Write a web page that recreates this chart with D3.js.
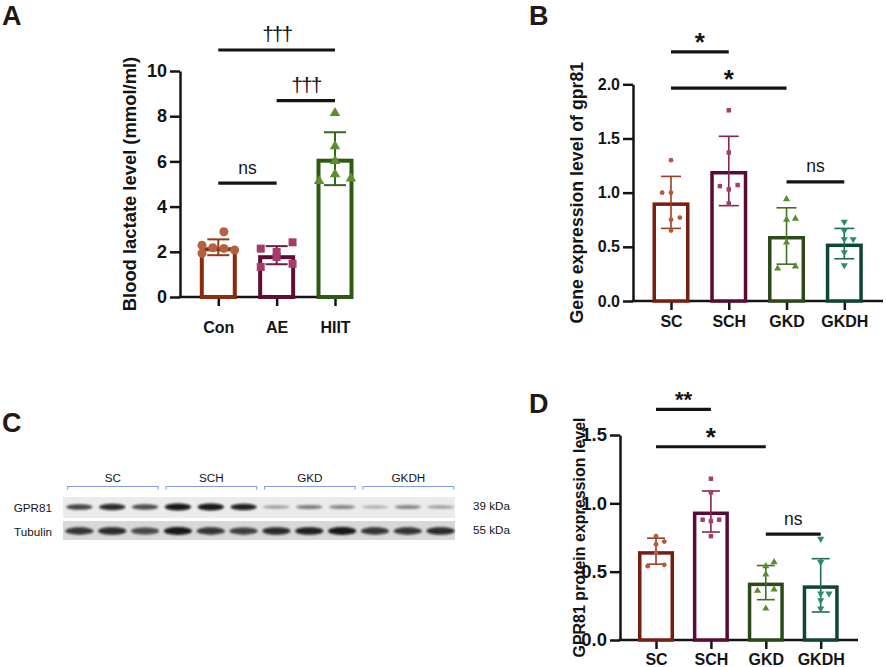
<!DOCTYPE html>
<html>
<head>
<meta charset="utf-8">
<script src="https://cdn.jsdelivr.net/npm/d3@7"></script>
<style>
  body { margin: 0; background: #fff; }
  svg { display: block; font-family: "Liberation Sans", Arial, Helvetica, sans-serif; }
</style>
</head>
<body>
<svg id="fig" width="886" height="667"></svg>
<script>
// ---------------- Data ----------------

// Panel A - blood lactate
var groupsA = ["Con", "AE", "HIIT"];
var meanA   = [2.2, 1.85, 6.12];
var sdA     = [0.35, 0.4, 1.17];
var pointsA = [
  [2.89, 2.29, 1.93, 2.18, 2.15, 2.08],
  [2.42, 2.14, 1.99, 1.33, 1.47, 1.77],
  [8.14, 6.67, 6.02, 5.43, 5.13, 5.24]
];
var ticksA = [0, 2, 4, 6, 8, 10];
var sigA = [
  { from: "Con", to: "HIIT", label: "†††" },
  { from: "AE",  to: "HIIT", label: "†††" },
  { from: "Con", to: "AE",   label: "ns" }
];

// Panel B - gpr81 gene expression
var groupsB = ["SC", "SCH", "GKD", "GKDH"];
var meanB   = [0.91, 1.2, 0.6, 0.53];
var sdB     = [0.24, 0.32, 0.26, 0.14];
var pointsB = [
  [1.30, 1.00, 1.00, 0.75, 0.77, 0.65],
  [1.76, 1.37, 1.06, 1.07, 1.03, 0.90],
  [0.94, 0.75, 0.76, 0.54, 0.30, 0.32],
  [0.73, 0.65, 0.57, 0.57, 0.45, 0.33]
];
var ticksB = [0, 0.5, 1, 1.5, 2];
var sigB = [
  { from: "SC",  to: "SCH",  label: "*" },
  { from: "SC",  to: "GKD",  label: "*" },
  { from: "GKD", to: "GKDH", label: "ns" }
];

// Panel C - western blot
var laneGroups  = ["SC", "SCH", "GKD", "GKDH"];
var gpr81Band   = [0.75, 0.85, 0.7, 0.95, 0.95, 0.9, 0.35, 0.5, 0.45, 0.3, 0.45, 0.35];
var tubulinBand = [0.8, 0.85, 0.7, 0.95, 0.8, 0.75, 0.85, 0.9, 0.95, 0.8, 0.8, 0.85];
var blotRows    = ["GPR81", "Tubulin"];
var blotKda     = ["39 kDa", "55 kDa"];

// Panel D - GPR81 protein
var groupsD = ["SC", "SCH", "GKD", "GKDH"];
var meanD   = [0.65, 0.94, 0.42, 0.40];
var sdD     = [0.095, 0.15, 0.125, 0.195];
var pointsD = [
  [0.76, 0.72, 0.70, 0.64, 0.54, 0.55],
  [1.18, 1.08, 0.88, 0.88, 0.87, 0.76],
  [0.57, 0.54, 0.48, 0.36, 0.37, 0.23],
  [0.74, 0.57, 0.34, 0.34, 0.29, 0.23]
];
var ticksD = [0, 0.5, 1, 1.5];
var sigD = [
  { from: "SC",  to: "SCH",  label: "**" },
  { from: "SC",  to: "GKD",  label: "*" },
  { from: "GKD", to: "GKDH", label: "ns" }
];

// ---------------- Layout ----------------

var ink = "#141414";
var letterInk = "#231815";

// horizontal spread of the dots, as a fraction of the bar width
var slotsA = [[0.15, -0.44, -0.44, -0.15, 0.15, 0.44], [0.43, -0.43, 0, -0.43, 0.43, 0], [0, 0, 0, 0, -0.43, 0.43]];
var slotsB = [[0, -0.24, 0, 0, 0.24, 0], [0, 0, -0.24, 0.24, 0, 0], [0, 0, 0.24, 0, -0.24, 0.24], [0, 0, 0.24, 0, 0, 0]];
var slotsD = [[0, 0.23, 0, 0, -0.23, 0.23], [0, 0, -0.23, 0.23, 0, 0], [0.23, 0, 0, -0.23, 0.23, 0], [0, 0, 0.23, 0, 0, 0]];

var colA = { bar: ["#8a2c0e", "#5e0d38", "#2d5a12"], dot: ["#b5603f", "#a43c6c", "#5d8f2c"] };
var col4 = { bar: ["#7a1c0e", "#5a0a35", "#2b4a17", "#0e4535"], dot: ["#b35a3d", "#a53d6a", "#5b8b2b", "#2a8c6c"] };
var symA = [d3.symbolCircle, d3.symbolSquare, d3.symbolTriangle];
var sym4 = [d3.symbolCircle, d3.symbolSquare, d3.symbolTriangle, "down"];

var sigStyle = {
  "†††": { size: 21, weight: "normal", dy: -8.5, spacing: -2 },
  "ns":  { size: 17.5, weight: "normal", dy: -9.5, spacing: 0 },
  "*":   { size: 26, weight: "bold", dy: -0.5, spacing: 0 },
  "**":  { size: 22, weight: "bold", dy: -2.5, spacing: 0 }
};

var svg = d3.select("#fig");

// Draw one bar panel
function drawBars(cfg) {
  var g = svg.append("g");
  var x = d3.scalePoint().domain(cfg.groups).range(cfg.xRange);
  var y = d3.scaleLinear().domain(cfg.yDomain).range(cfg.yRange);

  // Y axis
  var ya = g.append("g")
    .attr("transform", "translate(" + cfg.axisX + ",0)")
    .call(d3.axisLeft(y).tickValues(cfg.ticks).tickFormat(cfg.fmt).tickSize(10).tickSizeOuter(0).tickPadding(3))
    .attr("font-family", null).attr("font-size", null);
  ya.select(".domain").attr("stroke", ink).attr("stroke-width", 2.5);
  ya.selectAll(".tick line").attr("stroke", ink).attr("stroke-width", 2.5);
  ya.selectAll(".tick text").attr("fill", ink)
    .style("font-size", cfg.tickFont + "px").style("font-weight", "bold");

  // X axis
  g.append("line")
    .attr("x1", cfg.axisX - 1.25).attr("x2", cfg.axisEnd)
    .attr("y1", y(0)).attr("y2", y(0))
    .attr("stroke", ink).attr("stroke-width", 2.5);
  var xa = g.append("g")
    .attr("transform", "translate(0," + y(0) + ")")
    .call(d3.axisBottom(x).tickSize(9).tickPadding(cfg.xPad))
    .attr("font-family", null).attr("font-size", null);
  xa.select(".domain").remove();
  xa.selectAll(".tick line").attr("stroke", ink).attr("stroke-width", 2.5);
  xa.selectAll(".tick text").attr("fill", ink)
    .style("font-size", cfg.xFont + "px").style("font-weight", "bold");

  // Bars
  g.selectAll("rect.bar").data(cfg.groups).enter().append("rect")
    .attr("class", "bar")
    .attr("x", function(d) { return x(d) - cfg.barW / 2 + cfg.barStroke / 2; })
    .attr("width", cfg.barW - cfg.barStroke)
    .attr("y", function(d, i) { return y(cfg.mean[i]) + cfg.barStroke / 2; })
    .attr("height", function(d, i) { return y(0) - y(cfg.mean[i]) - cfg.barStroke / 2; })
    .attr("fill", "#fff")
    .attr("stroke", function(d, i) { return cfg.colors.bar[i]; })
    .attr("stroke-width", cfg.barStroke);

  // Error bars
  var err = g.selectAll("g.err").data(cfg.groups).enter().append("g").attr("class", "err")
    .attr("stroke", function(d, i) { return d3.interpolateRgb(cfg.colors.bar[i], cfg.colors.dot[i])(cfg.errMix); })
    .attr("stroke-width", cfg.errW);
  err.append("line")
    .attr("x1", function(d) { return x(d); }).attr("x2", function(d) { return x(d); })
    .attr("y1", function(d, i) { return y(cfg.mean[i] - cfg.sd[i]); })
    .attr("y2", function(d, i) { return y(cfg.mean[i] + cfg.sd[i]); });
  [-1, 1].forEach(function(s) {
    err.append("line")
      .attr("x1", function(d) { return x(d) - cfg.capW / 2; })
      .attr("x2", function(d) { return x(d) + cfg.capW / 2; })
      .attr("y1", function(d, i) { return y(cfg.mean[i] + s * cfg.sd[i]); })
      .attr("y2", function(d, i) { return y(cfg.mean[i] + s * cfg.sd[i]); });
  });

  // Dots
  cfg.groups.forEach(function(grp, i) {
    var type = cfg.symbols[i];
    var shape = d3.symbol().type(type === "down" ? d3.symbolTriangle : type).size(cfg.symSize[i]);
    g.selectAll("path.dot-" + i).data(cfg.points[i]).enter().append("path")
      .attr("class", "dot-" + i)
      .attr("d", shape)
      .attr("transform", function(v, j) {
        return "translate(" + (x(grp) + cfg.slots[i][j] * cfg.barW) + "," + y(v) + ")" + (type === "down" ? " rotate(180)" : "");
      })
      .attr("fill", cfg.colors.dot[i]);
  });

  // Significance brackets
  cfg.sig.forEach(function(s, k) {
    var ly = y(cfg.sigLevels[k]);
    var st = sigStyle[s.label];
    g.append("line")
      .attr("x1", x(s.from)).attr("x2", x(s.to))
      .attr("y1", ly).attr("y2", ly)
      .attr("stroke", ink).attr("stroke-width", 3.2);
    g.append("text")
      .attr("x", (x(s.from) + x(s.to)) / 2).attr("y", ly + st.dy)
      .attr("text-anchor", "middle")
      .style("font-size", st.size + "px").style("font-weight", st.weight)
      .style("letter-spacing", st.spacing + "px")
      .attr("fill", ink)
      .text(s.label);
  });

  // Y label
  var cy = (cfg.yRange[0] + cfg.yRange[1]) / 2;
  g.append("text")
    .attr("transform", "translate(" + cfg.labelX + "," + cy + ") rotate(-90)")
    .attr("text-anchor", "middle")
    .style("font-size", cfg.labelFont + "px").style("font-weight", "bold")
    .attr("fill", ink)
    .text(cfg.label);

  // Panel letter
  svg.append("text")
    .attr("x", cfg.letterPos[0]).attr("y", cfg.letterPos[1])
    .style("font-size", "27px").style("font-weight", "bold")
    .attr("fill", letterInk)
    .text(cfg.letter);
}

// Panel A
drawBars({
  groups: groupsA, mean: meanA, sd: sdA, points: pointsA, slots: slotsA, sig: sigA,
  ticks: ticksA, fmt: d3.format("d"), yDomain: [0, 10], yRange: [297, 71],
  xRange: [218.3, 335], axisX: 180, axisEnd: 348,
  tickFont: 18, xFont: 16, xPad: 16,
  barW: 37, barStroke: 4, capW: 22, errW: 2, errMix: 0.25,
  colors: colA, symbols: symA, symSize: [64, 64, 48],
  sigLevels: [10.93, 8.69, 5.04],
  label: "Blood lactate level (mmol/ml)", labelX: 136, labelFont: 18.4,
  letter: "A", letterPos: [2, 25]
});

// Panel B
drawBars({
  groups: groupsB, mean: meanB, sd: sdB, points: pointsB, slots: slotsB, sig: sigB,
  ticks: ticksB, fmt: d3.format(".1f"), yDomain: [0, 2], yRange: [301, 84.3],
  xRange: [671, 844.3], axisX: 633, axisEnd: 883,
  tickFont: 16, xFont: 16, xPad: 5.6,
  barW: 37, barStroke: 3.5, capW: 20, errW: 1.6, errMix: 0.55,
  colors: col4, symbols: sym4, symSize: [18, 20, 22, 22],
  sigLevels: [2.30, 1.964, 1.099],
  label: "Gene expression level of gpr81", labelX: 583, labelFont: 17.7,
  letter: "B", letterPos: [529, 25]
});

// Panel D
drawBars({
  groups: groupsD, mean: meanD, sd: sdD, points: pointsD, slots: slotsD, sig: sigD,
  ticks: ticksD, fmt: d3.format(".1f"), yDomain: [0, 1.5], yRange: [640, 435],
  xRange: [656, 820.7], axisX: 620, axisEnd: 858,
  tickFont: 18.5, xFont: 16, xPad: 4.6,
  barW: 36, barStroke: 3.5, capW: 18, errW: 1.6, errMix: 0.55,
  colors: col4, symbols: sym4, symSize: [18, 20, 22, 22],
  sigLevels: [1.688, 1.414, 0.775],
  label: "GPR81 protein expression level", labelX: 585, labelFont: 16,
  letter: "D", letterPos: [529, 413]
});

// Panel C - blot
(function() {
  var g = svg.append("g");
  var defs = svg.append("defs");
  defs.append("filter").attr("id", "blur").attr("x", "-30%").attr("y", "-100%").attr("width", "160%").attr("height", "300%")
    .append("feGaussianBlur").attr("stdDeviation", 1.1);

  var lane = d3.scalePoint().domain(d3.range(gpr81Band.length)).range([63, 457]).padding(0.5);
  var step = lane.step();
  var nPer = gpr81Band.length / laneGroups.length;
  var rowY = { GPR81: 507, Tubulin: 531 };

  // strip backgrounds
  g.append("rect").attr("x", 63).attr("y", 497).attr("width", 392).attr("height", 21).attr("fill", "#ebebeb");
  g.append("rect").attr("x", 63).attr("y", 521).attr("width", 392).attr("height", 19).attr("fill", "#d8d8d8");

  // bands
  g.selectAll("ellipse.gpr").data(gpr81Band).enter().append("ellipse")
    .attr("cx", function(d, i) { return lane(i); }).attr("cy", rowY.GPR81)
    .attr("rx", step * 0.4).attr("ry", function(d) { return 0.6 + 3 * d; })
    .attr("fill", "#0a0a0a").attr("opacity", function(d) { return d; })
    .attr("filter", "url(#blur)");
  g.selectAll("ellipse.tub").data(tubulinBand).enter().append("ellipse")
    .attr("cx", function(d, i) { return lane(i); }).attr("cy", rowY.Tubulin)
    .attr("rx", step * 0.43).attr("ry", function(d) { return 2.5 + 1.5 * d; })
    .attr("fill", "#0a0a0a").attr("opacity", function(d) { return d; })
    .attr("filter", "url(#blur)");

  // group labels and brackets
  laneGroups.forEach(function(name, k) {
    var x0 = lane(k * nPer) - step * 0.36, x1 = lane(k * nPer + nPer - 1) + step * 0.4;
    g.append("path")
      .attr("d", "M" + x0 + ",489.5V486.5H" + x1 + "V489.5")
      .attr("fill", "none").attr("stroke", "#7f9fe0").attr("stroke-width", 1.1);
    g.append("text")
      .attr("x", (x0 + x1) / 2).attr("y", 482)
      .attr("text-anchor", "middle").style("font-size", "11.7px").attr("fill", ink)
      .text(name);
  });

  // row labels and sizes
  blotRows.forEach(function(r, k) {
    g.append("text").attr("x", 52).attr("y", rowY[r] + 4.5)
      .attr("text-anchor", "end").style("font-size", "11.7px").attr("fill", ink).text(r);
    g.append("text").attr("x", 473).attr("y", rowY[r] + 2.5)
      .style("font-size", "11.7px").attr("fill", ink).text(blotKda[k]);
  });

  svg.append("text").attr("x", 2).attr("y", 432)
    .style("font-size", "27px").style("font-weight", "bold").attr("fill", letterInk).text("C");
})();
</script>
</body>
</html>
